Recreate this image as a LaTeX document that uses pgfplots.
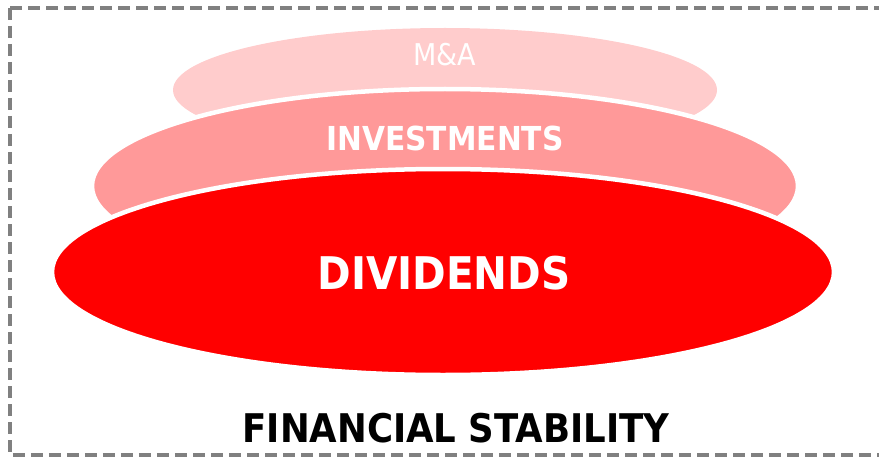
\documentclass[border=0pt]{standalone}
\usepackage{fontspec}
\setmainfont{DejaVu Sans Condensed}
\usepackage{pgfplots}
\pgfplotsset{compat=1.18}
\definecolor{mna}{HTML}{FFCCCC}
\definecolor{inv}{HTML}{FF9999}
\definecolor{divred}{HTML}{FF0000}
\definecolor{framegray}{HTML}{808080}
\begin{document}
\begin{tikzpicture}
\path[use as bounding box] (0,0) rectangle (879bp,458bp);
\begin{axis}[
  at={(0,0)}, anchor=south west,
  width=879bp, height=458bp, scale only axis,
  xmin=0, xmax=879, ymin=0, ymax=458, y dir=reverse,
  hide axis, clip=true,
]
% dashed frame
\draw[draw=framegray, line width=3.2bp, dash pattern=on 12bp off 6bp]
  (axis cs:10,8) -- (axis cs:10,455) -- (axis cs:900,455)
  (axis cs:10,8) -- (axis cs:900,8);
% M&A
\fill[mna] (axis cs:445,90) ellipse [x radius=272, y radius=62];
% Investments
\draw[fill=inv, draw=white, line width=4.5bp] (axis cs:445,186) ellipse [x radius=353, y radius=97];
% Dividends
\draw[fill=divred, draw=white, line width=4.5bp] (axis cs:443,272) ellipse [x radius=391, y radius=103];
% labels
\node[anchor=base, text=white, font=\fontsize{30bp}{34bp}\selectfont] at (axis cs:445,66) {M\&A};
\node[anchor=base, text=white, font=\fontsize{33bp}{36bp}\selectfont\bfseries] at (axis cs:445,150) {INVESTMENTS};
\node[anchor=base, text=white, font=\fontsize{45bp}{50bp}\selectfont\bfseries] at (axis cs:444,289) {DIVIDENDS};
\node[anchor=base, text=black, font=\fontsize{39.5bp}{44bp}\selectfont\bfseries] at (axis cs:456,442) {FINANCIAL STABILITY};
\end{axis}
\end{tikzpicture}
\end{document}
